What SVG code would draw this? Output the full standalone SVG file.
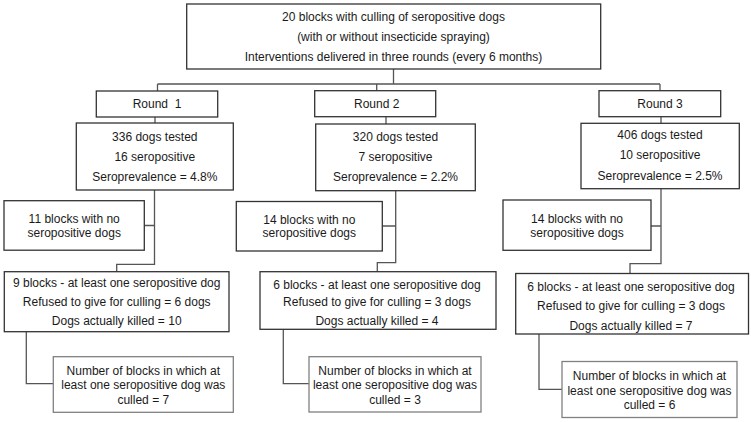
<svg xmlns="http://www.w3.org/2000/svg" width="751" height="422" viewBox="0 0 751 422">
<style>
.b{fill:#fff;stroke:#333;stroke-width:1.3}
.c{fill:#fff;stroke:#808080;stroke-width:1.3}
.l{fill:none;stroke:#555;stroke-width:1.3}
text{font-family:"Liberation Sans",Arial,sans-serif;font-size:12px;fill:#1a1a1a;text-anchor:middle}
</style>
<rect width="751" height="422" fill="#fff"/>
<g id="connectors">
<path class="l" d="M393.5 69V84M157.5 84H660M157.5 84V91M376.7 84V90.7M660 84V90.7"/>
<path class="l" d="M155 117V123M386 116.7V124M661 116.7V123.3"/>
<path class="l" d="M154.5 190V264.3H116.7V271.7M144.3 225.5H154.5"/>
<path class="l" d="M395.7 190.7V262.7H377.3V271.7M382.3 226H395.7"/>
<path class="l" d="M661 188.7V263.7H630V273.5M651 226H661"/>
<path class="l" d="M26.3 331.7V383.7H53.3M283.3 329.3V383.7H309M539 334V389.3H562"/>
</g>
<g id="top">
<rect class="b" x="186.7" y="4" width="414" height="65"/>
<text x="393.5" y="20.5">20 blocks with culling of seropositive dogs</text>
<text x="393.5" y="40.7">(with or without insecticide spraying)</text>
<text x="393.5" y="60.7">Interventions delivered in three rounds (every 6 months)</text>
</g>
<g id="round1">
<rect class="b" x="96.3" y="91" width="121.4" height="26"/>
<text x="157" y="108.2" xml:space="preserve">Round  1</text>
</g>
<g id="round2">
<rect class="b" x="314.7" y="90.7" width="121" height="26"/>
<text x="376.7" y="108">Round 2</text>
</g>
<g id="round3">
<rect class="b" x="599" y="90.7" width="121.7" height="26"/>
<text x="660" y="108">Round 3</text>
</g>
<g id="stats1">
<rect class="b" x="76.3" y="123" width="157" height="67"/>
<text x="154.8" y="141">336 dogs tested</text>
<text x="154.8" y="161">16 seropositive</text>
<text x="154.8" y="181.2">Seroprevalence = 4.8%</text>
</g>
<g id="stats2">
<rect class="b" x="315.7" y="124" width="159.6" height="66.7"/>
<text x="395.5" y="141">320 dogs tested</text>
<text x="395.5" y="161">7 seropositive</text>
<text x="395.5" y="181.2">Seroprevalence = 2.2%</text>
</g>
<g id="stats3">
<rect class="b" x="581" y="123.3" width="158.3" height="65.4"/>
<text x="660" y="139.4">406 dogs tested</text>
<text x="660" y="159.4">10 seropositive</text>
<text x="660" y="180.2">Seroprevalence = 2.5%</text>
</g>
<g id="none1">
<rect class="b" x="4" y="200.7" width="140.3" height="49.5"/>
<text x="74.2" y="222.7">11 blocks with no</text>
<text x="74.2" y="236.5">seropositive dogs</text>
</g>
<g id="none2">
<rect class="b" x="236.3" y="201.5" width="146" height="49.5"/>
<text x="309.3" y="223.5">14 blocks with no</text>
<text x="309.3" y="237.4">seropositive dogs</text>
</g>
<g id="none3">
<rect class="b" x="503" y="200" width="148" height="50.3"/>
<text x="577" y="222.7">14 blocks with no</text>
<text x="577" y="236.5">seropositive dogs</text>
</g>
<g id="pos1">
<rect class="b" x="4.3" y="271.7" width="224.7" height="60"/>
<text x="116.7" y="287">9 blocks - at least one seropositive dog</text>
<text x="116.7" y="306">Refused to give for culling = 6 dogs</text>
<text x="116.7" y="325.3">Dogs actually killed = 10</text>
</g>
<g id="pos2">
<rect class="b" x="260" y="271.7" width="236" height="57.6"/>
<text x="377" y="288.5">6 blocks - at least one seropositive dog</text>
<text x="377" y="306">Refused to give for culling = 3 dogs</text>
<text x="377" y="324.5">Dogs actually killed = 4</text>
</g>
<g id="pos3">
<rect class="b" x="515.7" y="273.5" width="232.8" height="60.5"/>
<text x="631" y="291.2">6 blocks - at least one seropositive dog</text>
<text x="631" y="310.2">Refused to give for culling = 3 dogs</text>
<text x="631" y="329.5">Dogs actually killed = 7</text>
</g>
<g id="cull1">
<rect class="c" x="53.3" y="356.7" width="180" height="55.6"/>
<text x="143.3" y="374.6">Number of blocks in which at</text>
<text x="143.3" y="388.7">least one seropositive dog was</text>
<text x="143.3" y="403.6">culled = 7</text>
</g>
<g id="cull2">
<rect class="c" x="309" y="356.7" width="172" height="55.3"/>
<text x="395" y="374.6">Number of blocks in which at</text>
<text x="395" y="388.7">least one seropositive dog was</text>
<text x="395" y="403.6">culled = 3</text>
</g>
<g id="cull3">
<rect class="c" x="562" y="361.5" width="175" height="56"/>
<text x="649.5" y="380.2">Number of blocks in which at</text>
<text x="649.5" y="394.5">least one seropositive dog was</text>
<text x="649.5" y="408.5">culled = 6</text>
</g>
</svg>
